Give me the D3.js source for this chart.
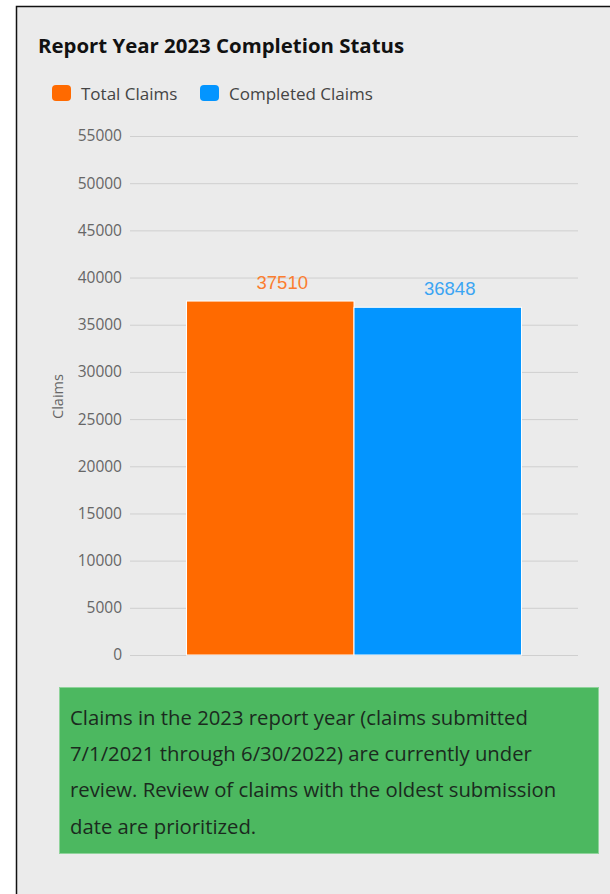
<!DOCTYPE html>
<html>
<head>
<meta charset="utf-8">
<script src="https://cdn.jsdelivr.net/npm/d3@7"></script>
<style>
  body { margin: 0; background: #fff; }
  #graphicContainer { width: 610px; height: 894px; }
</style>
</head>
<body>
<div id="graphicContainer"></div>
<script>
var seriesNames = ["Total Claims", "Completed Claims"]
var seriesValues = [37510, 36848]
var seriesColors = ["#ff6a00", "#0395ff"]
var labelColors = ["#fb7d2f", "#3ba5f3"]
var yTicks = [0, 5000, 10000, 15000, 20000, 25000, 30000, 35000, 40000, 45000, 50000, 55000]
var noteLines = [
	"Claims in the 2023 report year (claims submitted",
	"7/1/2021 through 6/30/2022) are currently under",
	"review. Review of claims with the oldest submission",
	"date are prioritized."
]

var font = "'Open Sans', 'Noto Sans', sans-serif"

var svg = d3.select("#graphicContainer").append("svg")
	.attr("width", 610)
	.attr("height", 894)

// panel
svg.append("rect")
	.attr("x", 16.5).attr("y", 6.5)
	.attr("width", 610).attr("height", 900)
	.attr("fill", "#ebebeb")
	.attr("stroke", "#111")
	.attr("stroke-width", 1.5)

svg.append("text")
	.attr("x", 38).attr("y", 53)
	.attr("font-family", font)
	.attr("font-weight", "bold")
	.attr("font-size", 20.4)
	.attr("fill", "#111")
	.text("Report Year 2023 Completion Status")

// legend
var legendX = [52, 200]
var legend = svg.selectAll(".legend")
	.data(seriesNames)
	.enter().append("g")
	.attr("transform", (d, i) => "translate(" + legendX[i] + ",85)")

legend.append("rect")
	.attr("width", 19).attr("height", 16)
	.attr("rx", 4)
	.attr("fill", (d, i) => seriesColors[i])

legend.append("text")
	.attr("x", 29).attr("y", 14.5)
	.attr("font-family", font)
	.attr("font-size", 17)
	.attr("fill", "#444")
	.text(d => d)

// chart
var margin = {left: 130, right: 32, top: 136, bottom: 239}
var width = 610 - margin.left - margin.right
var height = 894 - margin.top - margin.bottom

var g = svg.append("g").attr("transform", "translate(" + margin.left + "," + margin.top + ")")

var y = d3.scaleLinear().domain([0, 55000]).range([height, 0])
var x = d3.scaleBand().domain(seriesNames).range([0, width]).paddingInner(0).paddingOuter(0.3375)

var yAxis = d3.axisLeft(y)
	.tickValues(yTicks)
	.tickSize(-width)
	.tickPadding(8)
	.tickFormat(d3.format("d"))

var ya = g.append("g").call(yAxis)
ya.select(".domain").remove()
ya.selectAll("line").attr("stroke", "#cfcfcf")
ya.selectAll("text")
	.attr("font-family", font)
	.attr("font-size", 15.5)
	.attr("fill", "#666")

g.append("text")
	.attr("transform", "translate(-67," + (height / 2 + 1) + ") rotate(-90)")
	.attr("text-anchor", "middle")
	.attr("font-family", font)
	.attr("font-size", 14.5)
	.attr("fill", "#666")
	.text("Claims")

g.selectAll(".bar")
	.data(seriesValues)
	.enter().append("rect")
	.attr("x", (d, i) => x(seriesNames[i]))
	.attr("y", d => y(d))
	.attr("width", x.bandwidth())
	.attr("height", d => height - y(d))
	.attr("fill", (d, i) => seriesColors[i])
	.attr("stroke", "#fff")
	.attr("stroke-width", 1)

g.selectAll(".val")
	.data(seriesValues)
	.enter().append("text")
	.attr("x", (d, i) => x(seriesNames[i]) + x.bandwidth() / 2 + 12)
	.attr("y", d => y(d) - 12)
	.attr("text-anchor", "middle")
	.attr("font-family", "'Liberation Sans', Arial, sans-serif")
	.attr("font-size", 18.5)
	.attr("fill", (d, i) => labelColors[i])
	.text(d => d)

// note box
svg.append("rect")
	.attr("x", 59.5).attr("y", 687.5)
	.attr("width", 539).attr("height", 166)
	.attr("fill", "#4cb860")
	.attr("stroke", "#8fd39b")

svg.append("g").selectAll("text")
	.data(noteLines)
	.enter().append("text")
	.attr("x", 70)
	.attr("y", (d, i) => 725 + i * 36.2)
	.attr("font-family", font)
	.attr("font-size", 20.3)
	.attr("fill", "#1b2a1e")
	.text(d => d)
</script>
</body>
</html>
